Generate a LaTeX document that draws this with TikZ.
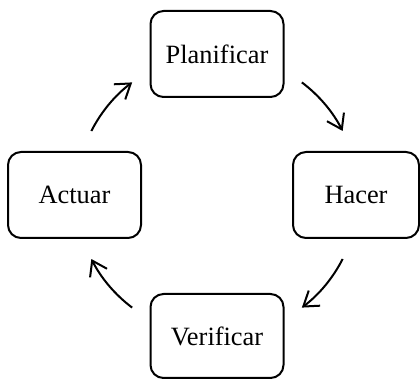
\documentclass[tikz,border=0pt]{standalone}
\usepackage{fontspec}
\setmainfont{Liberation Serif}
\usepackage{tikz}
\usetikzlibrary{arrows.meta}

\begin{document}
\begin{tikzpicture}[x=1pt, y=1pt, >={Straight Barb[length=14pt,width=19pt]}, node distance=141pt]
	\tikzstyle{etapa} = [draw, line width=2pt, rounded corners=13pt, minimum width=133pt, minimum height=86pt, inner sep=0pt, font=\fontsize{26.4}{30}\selectfont]
	\tikzstyle{ciclo} = [->, line width=2pt]
	\useasboundingbox (0,0) rectangle (420,379);
	\coordinate (c) at (217,184);
	\node[etapa, above of=c] (plan) {Planificar};
	\node[etapa, right of=c, xshift=-2pt, minimum width=126pt] (hacer) {Hacer};
	\node[etapa, left of=c, xshift=-1.5pt] (actuar) {Actuar};
	\node[etapa, below of=c, minimum height=84pt] (verif) {Verificar};
	\foreach \m/\n in {40/a1, -40/a2, -140/a3, 140/a4} {
		\coordinate (\n) at ([shift={(\m+13:141)}]c);
		\draw[ciclo] (\n) arc[start angle=\m+13, end angle=\m-13, radius=141];
	}
\end{tikzpicture}
\end{document}
